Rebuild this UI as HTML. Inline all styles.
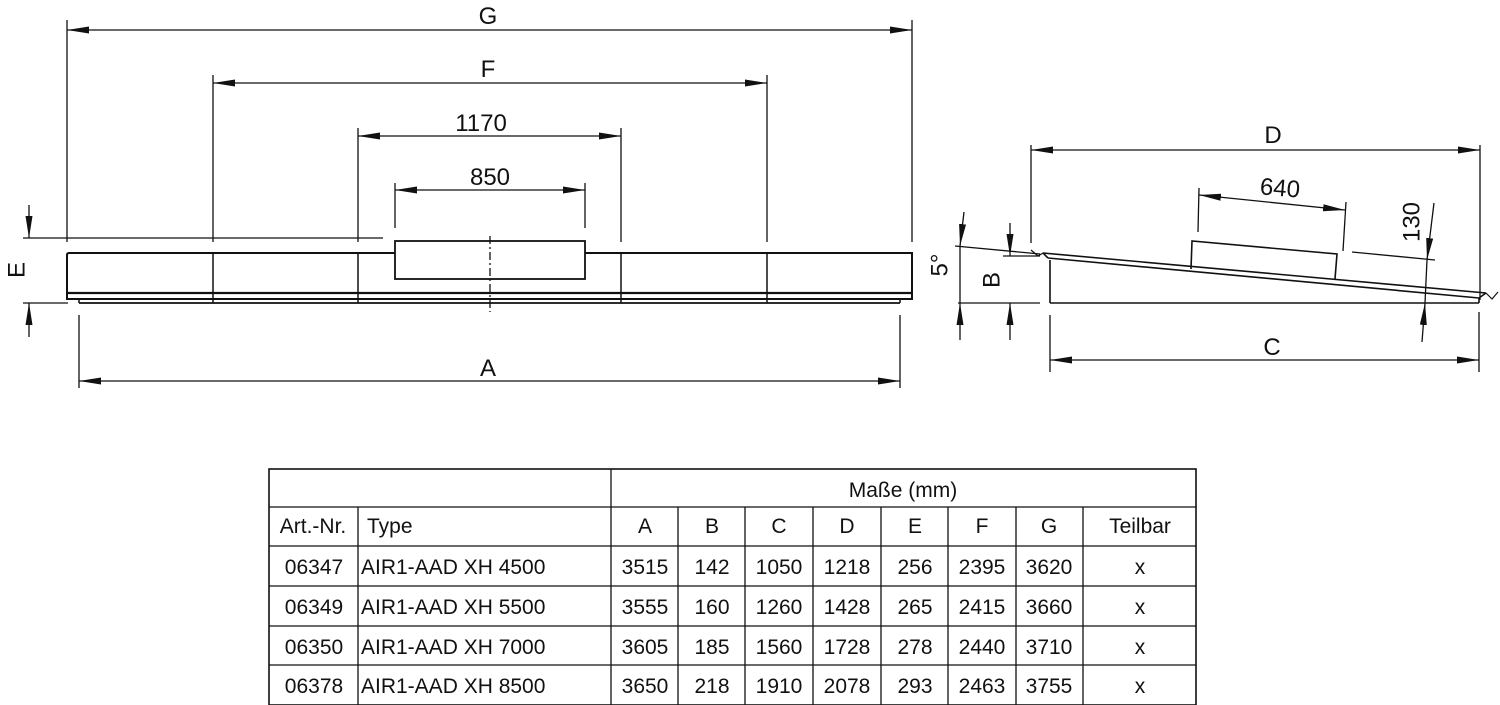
<!DOCTYPE html>
<html><head><meta charset="utf-8"><style>
html,body{margin:0;padding:0;background:#fff;}
svg{display:block;}
text{font-family:"Liberation Sans","DejaVu Sans",sans-serif;fill:#111;}
</style></head><body>
<svg width="1500" height="705" viewBox="0 0 1500 705" xmlns="http://www.w3.org/2000/svg">
<defs>
<marker id="a" viewBox="0 0 22 8" refX="22" refY="4" markerWidth="22" markerHeight="8" markerUnits="userSpaceOnUse" orient="auto-start-reverse"><path d="M0,0.5 L22,4 L0,7.5 Z" fill="#111"/></marker>
</defs>
<g stroke="#111" stroke-width="1.3" fill="none">
<line x1="67" y1="20" x2="67" y2="242"/>
<line x1="912" y1="20" x2="912" y2="242"/>
<line x1="213" y1="75" x2="213" y2="242"/>
<line x1="767" y1="75" x2="767" y2="242"/>
<line x1="358" y1="128" x2="358" y2="242"/>
<line x1="621" y1="128" x2="621" y2="242"/>
<line x1="395" y1="183" x2="395" y2="228"/>
<line x1="585" y1="183" x2="585" y2="228"/>
<line x1="23" y1="238" x2="383" y2="238"/>
<line x1="23" y1="303" x2="68" y2="303"/>
<line x1="79" y1="315" x2="79" y2="388"/>
<line x1="900" y1="315" x2="900" y2="388"/>
<line x1="67" y1="30" x2="912" y2="30" marker-start="url(#a)" marker-end="url(#a)"/>
<line x1="213" y1="83" x2="767" y2="83" marker-start="url(#a)" marker-end="url(#a)"/>
<line x1="358" y1="136" x2="621" y2="136" marker-start="url(#a)" marker-end="url(#a)"/>
<line x1="395" y1="190" x2="585" y2="190" marker-start="url(#a)" marker-end="url(#a)"/>
<line x1="79" y1="381" x2="900" y2="381" marker-start="url(#a)" marker-end="url(#a)"/>
<line x1="29" y1="205" x2="29" y2="238" marker-end="url(#a)"/>
<line x1="29" y1="337" x2="29" y2="303" marker-end="url(#a)"/>
<path d="M67,255 Q67,253 69,253 L912,253 L912,299 L67,299 Z" stroke-width="2"/>
<line x1="67" y1="293" x2="912" y2="293" stroke-width="2.2"/>
<line x1="79" y1="299" x2="79" y2="303" stroke-width="1.5"/>
<line x1="900" y1="299" x2="900" y2="303" stroke-width="1.5"/>
<line x1="79" y1="303" x2="900" y2="303" stroke-width="1.8"/>
<line x1="213" y1="253" x2="213" y2="303" stroke-width="1.5"/>
<line x1="358" y1="253" x2="358" y2="303" stroke-width="1.5"/>
<line x1="621" y1="253" x2="621" y2="303" stroke-width="1.5"/>
<line x1="767" y1="253" x2="767" y2="303" stroke-width="1.5"/>
<rect x="395" y="241" width="190" height="38" stroke-width="1.8" fill="#fff"/>
<line x1="490" y1="236" x2="490" y2="312" stroke-dasharray="8,3,2,3"/>

<line x1="1031" y1="145" x2="1031" y2="243"/>
<line x1="1480" y1="145" x2="1480" y2="300"/>
<line x1="1031" y1="150" x2="1480" y2="150" marker-start="url(#a)" marker-end="url(#a)"/>
<path d="M1043,253 L1486,293 M1048,258 L1479,298 M1043,253 L1048,258 M1479,298 L1479,303 M1486,293 L1479,298" stroke-width="1.6"/>
<path d="M1031,250 L1038,256 L1043,253 M1486,293 L1492,299 L1498,292" stroke-width="1.2"/>
<line x1="1050" y1="260" x2="1050" y2="303" stroke-width="1.6"/>
<line x1="1050" y1="303" x2="1479" y2="303" stroke-width="1.6"/>
<path d="M1191,269 L1192,241 L1337,254 L1335,279" stroke-width="1.6"/>
<line x1="1199" y1="188" x2="1198" y2="232"/>
<line x1="1346" y1="202" x2="1343" y2="251"/>
<line x1="1199" y1="195" x2="1345" y2="210" marker-start="url(#a)" marker-end="url(#a)"/>
<line x1="1352" y1="252" x2="1435" y2="260"/>
<line x1="1434" y1="203" x2="1427" y2="260" marker-end="url(#a)"/>
<line x1="1422" y1="342" x2="1425" y2="303" marker-end="url(#a)"/>
<line x1="1427" y1="260" x2="1425" y2="303"/>
<line x1="955" y1="246" x2="1040" y2="254"/>
<line x1="958" y1="303" x2="1040" y2="303"/>
<line x1="964" y1="212" x2="960" y2="246" marker-end="url(#a)"/>
<line x1="960" y1="340" x2="960" y2="303" marker-end="url(#a)"/>
<line x1="960" y1="246" x2="960" y2="303"/>
<line x1="1003" y1="256" x2="1040" y2="256"/>
<line x1="1010" y1="223" x2="1010" y2="256" marker-end="url(#a)"/>
<line x1="1010" y1="340" x2="1010" y2="303" marker-end="url(#a)"/>
<line x1="1050" y1="315" x2="1050" y2="372"/>
<line x1="1479" y1="312" x2="1479" y2="372"/>
<line x1="1050" y1="360" x2="1479" y2="360" marker-start="url(#a)" marker-end="url(#a)"/>

<rect x="269" y="469" width="927" height="236" stroke-width="1.6"/>
<line x1="269" y1="507" x2="1196" y2="507"/>
<line x1="269" y1="546" x2="1196" y2="546"/>
<line x1="269" y1="586" x2="1196" y2="586"/>
<line x1="269" y1="626" x2="1196" y2="626"/>
<line x1="269" y1="665" x2="1196" y2="665"/>
<line x1="611" y1="469" x2="611" y2="705"/>
<line x1="358" y1="507" x2="358" y2="705"/>
<line x1="678" y1="507" x2="678" y2="705"/>
<line x1="745" y1="507" x2="745" y2="705"/>
<line x1="813" y1="507" x2="813" y2="705"/>
<line x1="881" y1="507" x2="881" y2="705"/>
<line x1="948" y1="507" x2="948" y2="705"/>
<line x1="1016" y1="507" x2="1016" y2="705"/>
<line x1="1083" y1="507" x2="1083" y2="705"/>
</g>

<g font-size="24" text-anchor="middle">
<text x="488" y="24">G</text>
<text x="488" y="77">F</text>
<text x="481" y="131">1170</text>
<text x="490" y="185">850</text>
<text x="488" y="376">A</text>
<text x="18" y="270" transform="rotate(-90 18 270)" dominant-baseline="middle">E</text>
<text x="1273" y="143">D</text>
<text x="1280" y="196" transform="rotate(5 1280 188)">640</text>
<text x="1413" y="222" transform="rotate(-90 1413 222)" dominant-baseline="middle">130</text>
<text x="941" y="265" transform="rotate(-90 941 265)" dominant-baseline="middle">5°</text>
<text x="993" y="280" transform="rotate(-90 993 280)" dominant-baseline="middle">B</text>
<text x="1272" y="355">C</text>
</g>

<g font-size="21" text-anchor="middle">
<text x="903" y="497">Maße (mm)</text>
<text x="313" y="533">Art.-Nr.</text>
<text x="367" y="533" text-anchor="start">Type</text>
<text x="645" y="533">A</text><text x="712" y="533">B</text><text x="779" y="533">C</text><text x="847" y="533">D</text><text x="915" y="533">E</text><text x="982" y="533">F</text><text x="1049" y="533">G</text><text x="1140" y="533">Teilbar</text>

<text x="314" y="574">06347</text><text x="361" y="574" text-anchor="start">AIR1-AAD XH 4500</text>
<text x="645" y="574">3515</text><text x="712" y="574">142</text><text x="779" y="574">1050</text><text x="847" y="574">1218</text><text x="915" y="574">256</text><text x="982" y="574">2395</text><text x="1049" y="574">3620</text><text x="1140" y="574">x</text>

<text x="314" y="614">06349</text><text x="361" y="614" text-anchor="start">AIR1-AAD XH 5500</text>
<text x="645" y="614">3555</text><text x="712" y="614">160</text><text x="779" y="614">1260</text><text x="847" y="614">1428</text><text x="915" y="614">265</text><text x="982" y="614">2415</text><text x="1049" y="614">3660</text><text x="1140" y="614">x</text>

<text x="314" y="654">06350</text><text x="361" y="654" text-anchor="start">AIR1-AAD XH 7000</text>
<text x="645" y="654">3605</text><text x="712" y="654">185</text><text x="779" y="654">1560</text><text x="847" y="654">1728</text><text x="915" y="654">278</text><text x="982" y="654">2440</text><text x="1049" y="654">3710</text><text x="1140" y="654">x</text>

<text x="314" y="693">06378</text><text x="361" y="693" text-anchor="start">AIR1-AAD XH 8500</text>
<text x="645" y="693">3650</text><text x="712" y="693">218</text><text x="779" y="693">1910</text><text x="847" y="693">2078</text><text x="915" y="693">293</text><text x="982" y="693">2463</text><text x="1049" y="693">3755</text><text x="1140" y="693">x</text>
</g>
</svg>
</body></html>
